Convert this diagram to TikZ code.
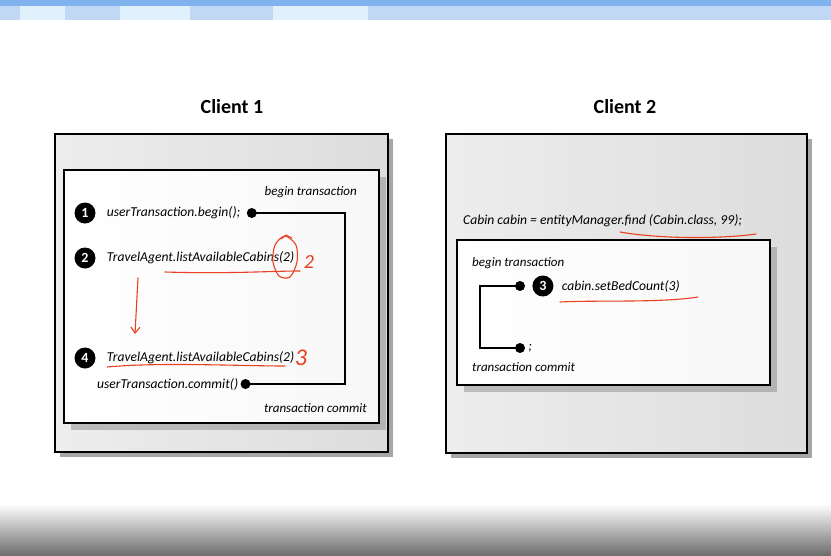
\documentclass[tikz,border=0pt]{standalone}
\usepackage{fontspec}
\setmainfont{Carlito}
\usetikzlibrary{positioning,shadows,arrows.meta}
\definecolor{handred}{RGB}{232,64,32}
\definecolor{barblue}{RGB}{128,178,238}
\definecolor{tabblue}{RGB}{192,216,244}
\definecolor{tablight}{RGB}{224,240,252}

\begin{document}
\begin{tikzpicture}[
  x=1pt, y=-1pt,
  code/.style={font=\fontsize{13.6}{15}\selectfont\itshape, inner sep=0pt, anchor=west},
  note/.style={font=\fontsize{13}{15}\selectfont\itshape, inner sep=0pt},
  title/.style={font=\fontsize{20}{22}\selectfont\bfseries},
  num/.style={circle, fill=black, text=white, inner sep=0pt, minimum size=21pt,
              font=\fontsize{14}{14}\selectfont\bfseries},
  dot/.style={circle, fill=black, inner sep=0pt, minimum size=10pt},
  outerbox/.style={draw=black, line width=1.8pt, left color=gray!14, right color=gray!27,
                   drop shadow={shadow xshift=5pt, shadow yshift=-5pt, opacity=0.7}},
  innerbox/.style={draw=black, line width=1.8pt, left color=white, right color=gray!6,
                   drop shadow={shadow xshift=7pt, shadow yshift=-7pt, opacity=0.45, fill=gray}},
  rail/.style={line width=1.8pt},
  ink/.style={handred, line width=1.1pt, line cap=round},
  scrawl/.style={text=handred, inner sep=0pt, font=\fontsize{20}{20}\selectfont\itshape}
]
\useasboundingbox (0,0) rectangle (831,555);

%% Screen chrome
\fill[barblue] (0,0) rectangle (831,6);
\fill[tabblue] (0,6) rectangle (831,20);
\foreach \a/\b in {20/65,120/190,273/368}
  \fill[tablight] (\a,6) rectangle (\b,20);
\shade[top color=white, bottom color=black!57] (0,504) rectangle (831,555);

%% Client 1
\node[title] (client1) at (232,107) {Client 1};
\draw[outerbox] (55,134) rectangle (388,452);
\draw[innerbox] (64,170) rectangle (379,423);

\node[note, anchor=east] (begin1) at (357,192) {begin transaction};
\node[num] (n1) at (85,213) {1};
\node[code, right=11pt of n1] (beginCall) {userTransaction.begin();};
\node[dot, right=6pt of beginCall] (dotB) {};
\node[num] (n2) at (85,258) {2};
\node[code, right=11pt of n2] (list2) {TravelAgent.listAvailableCabins(2)};
\node[num] (n4) at (85,358) {4};
\node[code, right=11pt of n4] (list4) {TravelAgent.listAvailableCabins(2)};
\node[code] (commitCall) at (97,384) {userTransaction.commit()};
\node[dot, right=2pt of commitCall] (dotC) {};
\node[note, anchor=east] (commit1) at (367,408) {transaction commit};

\coordinate (railL) at (345,300);
\draw[rail] (dotB.center) -- (dotB -| railL) -- (dotC -| railL) -- (dotC.center);

%% Client 1 red marks
\draw[ink] (165,272) .. controls (230,274) and (270,271) .. (300,271);
\draw[ink] plot[smooth cycle] coordinates {(285,236) (296,245) (297,262) (290,277) (279,276) (273,262) (275,245)};
\draw[ink] (281,239) -- (286,235) -- (292,238);
\node[scrawl] (red2) at (309,262) {2};
\coordinate (arrTop) at (138,278);
\coordinate (arrEnd) at (135,334);
\draw[ink, -{Straight Barb[length=6pt,width=9pt]}] (arrTop) -- (arrEnd);
\draw[ink] (107,367) .. controls (160,362) and (240,366) .. (285,366);
\node[scrawl, font=\fontsize{24}{24}\selectfont\itshape] (red3) at (301,358) {3};

%% Client 2
\node[title] (client2) at (625,107) {Client 2};
\draw[outerbox] (446,134) rectangle (807,453);
\node[code] (findCall) at (463,221) {Cabin cabin = entityManager.find (Cabin.class, 99);};
\draw[innerbox] (457,240) rectangle (770,385);

\node[note, anchor=west] (begin2) at (472,263) {begin transaction};
\node[dot] (dotB2) at (520,286) {};
\node[num, right=7pt of dotB2] (n3) {3};
\node[code, right=8pt of n3] (setBed) {cabin.setBedCount(3)};
\node[dot] (dotC2) at (520,348) {};
\node[code, right=3pt of dotC2] (semi) {;};
\node[note, anchor=west] (commit2) at (472,367) {transaction commit};

\coordinate (railR) at (480,300);
\draw[rail] (dotB2.center) -- (dotB2 -| railR) -- (dotC2 -| railR) -- (dotC2.center);

%% Client 2 red marks
\draw[ink] (620,232) .. controls (660,239) and (720,239) .. (756,234);
\draw[ink] (560,302) .. controls (600,300) and (660,303) .. (698,297);

\end{tikzpicture}
\end{document}
